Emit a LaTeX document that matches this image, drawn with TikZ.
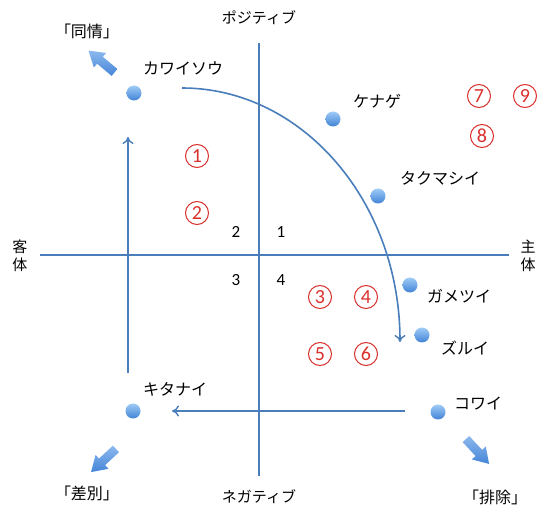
\documentclass[tikz,border=0pt]{standalone}
\usepackage{fontspec}
\setmainfont{Noto Sans CJK JP}
\newfontfamily\digitfont{Carlito}
\usetikzlibrary{arrows.meta}
\definecolor{axisblue}{HTML}{4A7EBB}
\definecolor{dotlight}{HTML}{9FCBF6}
\definecolor{dotdark}{HTML}{4183D6}
\definecolor{numred}{HTML}{D9302C}
\definecolor{arrlight}{HTML}{8DB9EE}
\definecolor{arrdark}{HTML}{4585D8}
\begin{document}
\begin{tikzpicture}[x=1pt,y=-1pt,
  axis/.style={draw=axisblue, line width=1.6pt},
  conn/.style={draw=axisblue, line width=1.6pt, -{To[length=7pt,width=11pt,line width=1.4pt]}},
  dot/.style={circle, minimum size=15pt, inner sep=0pt, top color=dotlight, bottom color=dotdark},
  lbl/.style={inner sep=0pt, font=\fontsize{16}{18}\selectfont},
  axlbl/.style={inner sep=0pt, font=\fontsize{15}{18}\selectfont, align=center},
  qnum/.style={inner sep=0pt, font=\digitfont\fontsize{17}{17}\selectfont},
  cnum/.style={circle, draw=numred, text=numred, line width=1pt, minimum size=23pt, inner sep=0pt, font=\digitfont\fontsize{20}{20}\selectfont},
  blockarr/.pic={\shade[top color=arrlight, bottom color=arrdark] (-17,-4.5) -- (2,-4.5) -- (2,-9.5) -- (17,0) -- (2,9.5) -- (2,4.5) -- (-17,4.5) -- cycle;}
]
\useasboundingbox (0,0) rectangle (539,513);

% axes
\coordinate (ytop) at (259,43);
\coordinate (ybot) at (259,476);
\coordinate (xl) at (40,255);
\coordinate (xr) at (509,255);
\draw[axis] (ytop) -- (ybot);
\draw[axis] (xl) -- (xr);

\node[axlbl] (pos) at (259,18) {ポジティブ};
\node[axlbl] (neg) at (259,497) {ネガティブ};
\node[axlbl] (kyaku) at (20,256) {客\\体};
\node[axlbl] (shu) at (528,256) {主\\体};

% quadrant numbers
\node[qnum] (q1) at (281,232) {1};
\node[qnum] (q2) at (236,232) {2};
\node[qnum] (q3) at (236,280) {3};
\node[qnum] (q4) at (281,280) {4};

% connectors
\coordinate (vs) at (128,373);
\coordinate (ve) at (128,137);
\draw[conn] (vs) -- (ve);
\coordinate (hs) at (405,411);
\coordinate (he) at (172,411);
\draw[conn] (hs) -- (he);
\coordinate (cs) at (182,88);
\draw[conn] (cs) arc[start angle=-90, end angle=0, x radius=218, y radius=254];

% dots and labels
\node[dot] (d1) at (134,93) {};
\node[lbl] (t1) at (183,68) {カワイソウ};
\node[dot] (d2) at (333,119) {};
\node[lbl] (t2) at (377,101) {ケナゲ};
\node[dot] (d3) at (378,196) {};
\node[lbl] (t3) at (440,178) {タクマシイ};
\node[dot] (d4) at (410,285) {};
\node[lbl] (t4) at (459,296) {ガメツイ};
\node[dot] (d5) at (422,335) {};
\node[lbl] (t5) at (465,348) {ズルイ};
\node[dot] (d6) at (133,411) {};
\node[lbl] (t6) at (175,389) {キタナイ};
\node[dot] (d7) at (438,412) {};
\node[lbl] (t7) at (478,404) {コワイ};

% block arrows and labels
\pic[rotate=140] at (101.5,61.5) {blockarr};
\pic[rotate=223] at (103.5,460.5) {blockarr};
\pic[rotate=-47] at (477.5,451.5) {blockarr};
\node[lbl] (doujou) at (87,31) {「同情」};
\node[lbl] (sabetsu) at (87,493) {「差別」};
\node[lbl] (haijo) at (495,497) {「排除」};

% circled numbers
\node[cnum] (c1) at (197,156) {1};
\node[cnum] (c2) at (197,213) {2};
\node[cnum] (c3) at (320,297) {3};
\node[cnum] (c4) at (366,297) {4};
\node[cnum] (c5) at (320,354) {5};
\node[cnum] (c6) at (366,354) {6};
\node[cnum] (c7) at (479,96) {7};
\node[cnum] (c9) at (525,96) {9};
\node[cnum] (c8) at (482,136) {8};
\end{tikzpicture}
\end{document}
